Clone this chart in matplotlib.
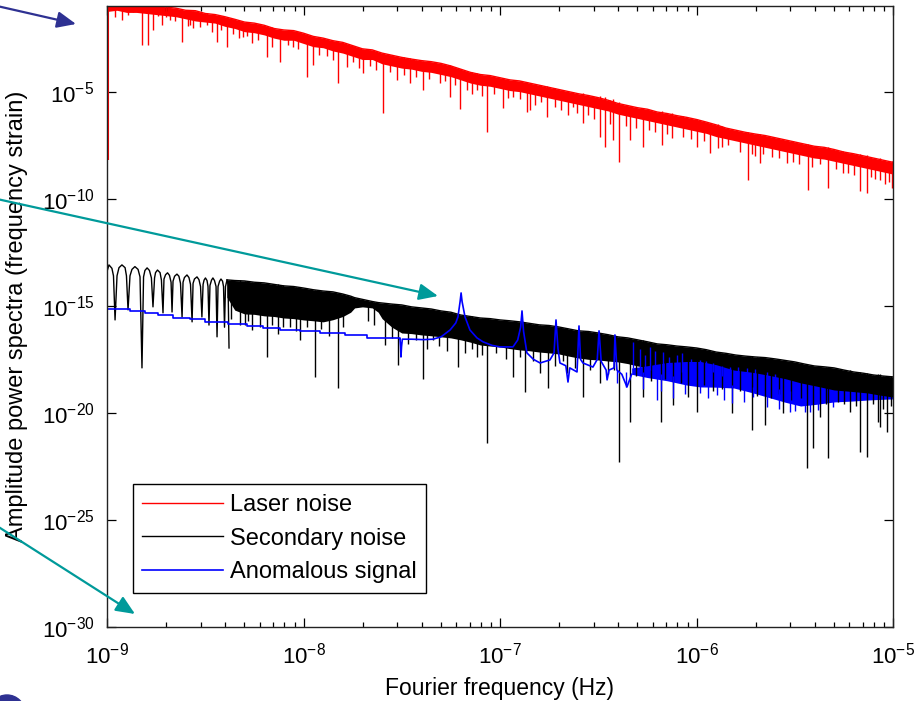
import numpy as np
import matplotlib
matplotlib.use("Agg")
import matplotlib.pyplot as plt
from matplotlib.patches import FancyArrowPatch, Ellipse
from matplotlib.ticker import NullLocator, LogLocator

plt.rcParams['font.family'] = ['Liberation Sans', 'DejaVu Sans']
plt.rcParams['mathtext.fontset'] = 'custom'
plt.rcParams['mathtext.rm'] = 'Liberation Sans'
plt.rcParams['mathtext.it'] = 'Liberation Sans:italic'
plt.rcParams['mathtext.bf'] = 'Liberation Sans:bold'

# ---- data (log10 of frequency in Hz, log10 of amplitude) ----
xtick_exp = [-9, -8, -7, -6, -5]
ytick_exp = [-30, -25, -20, -15, -10, -5]
labels = ['Laser noise', 'Secondary noise', 'Anomalous signal']

# laser noise: band envelope, start edge and spikes
laser_lf = [-8.995, -8.95, -8.9, -8.85, -8.8, -8.75, -8.7, -8.65, -8.6, -8.55, -8.5, -8.45, -8.4,
            -8.35, -8.3, -8.25, -8.2, -8.15, -8.1, -8.05, -8.0, -7.95, -7.9, -7.85, -7.8, -7.75,
            -7.7, -7.65, -7.6, -7.55, -7.5, -7.45, -7.4, -7.35, -7.3, -7.25, -7.2, -7.15, -7.1,
            -7.05, -7.0, -6.95, -6.9, -6.85, -6.8, -6.75, -6.7, -6.65, -6.6, -6.55, -6.5, -6.45,
            -6.4, -6.35, -6.3, -6.25, -6.2, -6.15, -6.1, -6.05, -6.0, -5.95, -5.9, -5.85, -5.8,
            -5.75, -5.7, -5.65, -5.6, -5.55, -5.5, -5.45, -5.4, -5.35, -5.3, -5.25, -5.2, -5.15,
            -5.1, -5.05, -5.0]
laser_top = [-0.9, -0.85, -0.9, -0.88, -0.95, -0.92, -1.05, -1.1, -1.2, -1.22, -1.35, -1.4, -1.5,
             -1.62, -1.75, -1.8, -1.9, -2.05, -2.12, -2.15, -2.27, -2.42, -2.5, -2.62, -2.7, -2.85,
             -3.0, -3.05, -3.2, -3.3, -3.4, -3.48, -3.55, -3.6, -3.68, -3.8, -3.95, -4.1, -4.2,
             -4.25, -4.35, -4.45, -4.5, -4.6, -4.7, -4.8, -4.9, -5.0, -5.1, -5.18, -5.28, -5.4,
             -5.55, -5.65, -5.75, -5.82, -5.95, -6.02, -6.12, -6.2, -6.3, -6.42, -6.55, -6.7, -6.8,
             -6.9, -6.98, -7.05, -7.15, -7.25, -7.35, -7.45, -7.55, -7.6, -7.7, -7.82, -7.9, -8.0,
             -8.1, -8.2, -8.3]
laser_bot = [-1.25, -1.2, -1.3, -1.3, -1.35, -1.4, -1.45, -1.5, -1.6, -1.7,
             -1.75, -1.8, -1.95, -2.05, -2.2, -2.25, -2.35, -2.5, -2.6, -2.6,
             -2.75, -2.9, -2.95, -3.1, -3.2, -3.35, -3.5, -3.5, -3.7, -3.8,
             -3.9, -3.95, -4.05, -4.1, -4.2, -4.3, -4.45, -4.6, -4.7, -4.75,
             -4.85, -4.95, -5.0, -5.1, -5.2, -5.3, -5.4, -5.5, -5.6, -5.7,
             -5.8, -5.9, -6.05, -6.15, -6.25, -6.35, -6.45, -6.55, -6.65, -6.75,
             -6.85, -6.95, -7.1, -7.2, -7.3, -7.4, -7.5, -7.6, -7.7, -7.8,
             -7.9, -8.0, -8.1, -8.15, -8.25, -8.35, -8.45, -8.55, -8.65, -8.75,
             -8.85]
laser_edge = [-8.996, -8.19, -0.9]
# deep spikes
laser_dip_lf = [-8.959, -8.924, -8.893, -8.822, -8.791, -8.766, -8.720, -8.679, -8.618, -8.578,
                -8.527, -8.440, -8.389, -8.308, -8.262, -8.186, -8.120, -8.053, -7.982, -7.952,
                -7.824, -7.779, -7.697, -7.595, -7.524, -7.458, -7.392, -7.305, -7.254, -7.204,
                -7.117, -7.066, -6.985, -6.934, -6.863, -6.847, -6.761, -6.654, -6.629, -6.578,
                -6.491, -6.466, -6.425, -6.394, -6.338, -6.272, -6.176, -6.125, -5.997, -5.931,
                -5.891, -5.738, -5.677, -5.616, -5.539, -5.433, -5.331, -5.254, -5.168, -5.132,
                -5.066, -5.005]
laser_dip_hi = [-0.9, -0.9, -0.9, -0.95, -0.95, -0.95, -1.0, -1.05, -1.2, -1.3, -1.35, -1.5, -1.6,
                -1.8, -1.9, -2.0, -2.15, -2.3, -2.4, -2.5, -2.7, -2.8, -3.0, -3.2, -3.35, -3.45,
                -3.55, -3.65, -3.75, -3.95, -4.15, -4.25, -4.35, -4.45, -4.55, -4.6, -4.75, -4.95,
                -5.0, -5.05, -5.2, -5.25, -5.35, -5.5, -5.65, -5.75, -5.9, -6.0, -6.3, -6.45, -6.5,
                -6.9, -7.0, -7.1, -7.25, -7.45, -7.6, -7.75, -7.9, -7.95, -8.1, -8.25]
laser_dip_lo = [-1.5, -1.66, -1.4, -2.82, -2.82, -2.12, -1.9, -1.66, -2.68, -1.9, -2.0, -2.68, -2.9,
                -2.45, -2.73, -3.38, -3.6, -2.9, -4.31, -3.75, -4.59, -3.84, -4.12, -5.99, -4.45,
                -4.59, -4.92, -4.59, -5.24, -5.8, -4.92, -6.88, -5.76, -5.24, -5.95, -5.85, -6.18,
                -6.09, -5.71, -6.46, -7.11, -7.58, -7.25, -8.28, -7.25, -7.58, -7.49, -7.16, -7.58,
                -7.86, -7.63, -9.12, -8.33, -8.05, -8.33, -9.59, -9.5, -8.8, -9.64, -9.73, -9.12,
                -9.5]
# shorter spikes inside and just below the band
laser_sp_lf = [-8.87, -8.74, -8.70, -8.655, -8.59, -8.56, -8.49, -8.465, -8.42, -8.36, -8.33,
               -8.285, -8.23, -8.16, -8.08, -8.03, -7.92, -7.88, -7.85, -7.75, -7.72, -7.66,
               -7.63, -7.56, -7.49, -7.43, -7.36, -7.28, -7.23, -7.17, -7.14, -7.09, -7.03,
               -6.96, -6.90, -6.82, -6.79, -6.72, -6.69, -6.61, -6.55, -6.52, -6.44, -6.36,
               -6.31, -6.24, -6.21, -6.15, -6.07, -6.03, -5.96, -5.87, -5.84, -5.78, -5.72,
               -5.70, -5.66, -5.58, -5.51, -5.48, -5.41, -5.37, -5.29, -5.23, -5.20, -5.11,
               -5.09, -5.04, -5.02]
laser_sp_hi = [-0.9, -0.95, -1.0, -1.1, -1.2, -1.25, -1.35, -1.4, -1.45, -1.6, -1.7, -1.75, -1.85,
               -2.0, -2.12, -2.2, -2.45, -2.55, -2.62, -2.85, -2.95, -3.05, -3.1, -3.3, -3.4,
               -3.5, -3.6, -3.7, -3.85, -4.05, -4.1, -4.2, -4.3, -4.4, -4.5, -4.65, -4.7, -4.85,
               -4.9, -5.08, -5.18, -5.25, -5.4, -5.6, -5.72, -5.85, -5.9, -6.0, -6.15, -6.25,
               -6.4, -6.6, -6.7, -6.85, -6.95, -6.98, -7.03, -7.2, -7.32, -7.4, -7.52, -7.58,
               -7.72, -7.85, -7.9, -8.08, -8.12, -8.22, -8.26]
laser_sp_lo = [-1.3, -1.45, -1.5, -1.7, -1.95, -2.05, -1.9, -2.2, -2.1, -2.3, -2.5, -2.4, -2.6,
               -2.9, -2.8, -3.0, -3.3, -3.35, -3.5, -3.6, -3.9, -3.8, -4.0, -4.1, -4.2, -4.3,
               -4.4, -4.5, -4.7, -4.9, -5.1, -5.2, -5.1, -5.3, -5.35, -5.6, -5.5, -5.7, -5.85,
               -6.0, -6.1, -6.3, -6.5, -6.6, -6.7, -6.8, -6.9, -7.0, -7.1, -7.2, -7.3, -7.6,
               -7.5, -7.8, -7.9, -8.0, -7.9, -8.1, -8.3, -8.4, -8.5, -8.4, -8.6, -8.8, -8.9,
               -9.0, -9.1, -9.3, -9.2]

# secondary noise: low-frequency lobes, dense band, deep dips
sec_lf = [-9.000, -8.990, -8.975, -8.967, -8.959, -8.949, -8.939, -8.924, -8.908, -8.901, -8.893,
          -8.883, -8.873, -8.858, -8.842, -8.832, -8.822, -8.814, -8.807, -8.796, -8.784, -8.774,
          -8.766, -8.758, -8.753, -8.743, -8.730, -8.723, -8.715, -8.710, -8.702, -8.692, -8.682,
          -8.674, -8.669, -8.664, -8.656, -8.644, -8.634, -8.626, -8.618, -8.613, -8.606, -8.593,
          -8.583, -8.575, -8.567, -8.562, -8.555, -8.542, -8.532, -8.524, -8.517, -8.511, -8.506,
          -8.499, -8.491, -8.486, -8.481, -8.476, -8.468, -8.461, -8.453, -8.445, -8.440, -8.435,
          -8.427, -8.420, -8.412, -8.407, -8.402, -8.397, -8.389, -8.384, -8.379]
sec_la = [-13.4, -13.09, -13.25, -13.6, -15.66, -13.6, -13.22, -13.09, -13.22, -13.6, -15.19,
          -13.6, -13.3, -13.17, -13.3, -13.65, -17.90, -13.65, -13.35, -13.23, -13.35, -13.7,
          -15.05, -13.7, -13.45, -13.33, -13.45, -13.8, -15.33, -13.75, -13.55, -13.46, -13.58,
          -13.9, -15.29, -13.85, -13.62, -13.52, -13.62, -13.95, -15.52, -13.9, -13.68, -13.56,
          -13.68, -14.0, -15.75, -13.95, -13.75, -13.65, -13.78, -14.1, -15.52, -14.0, -13.8,
          -13.70, -13.82, -14.1, -15.9, -14.05, -13.8, -13.70, -13.82, -14.1, -16.45, -14.1,
          -13.85, -13.75, -13.85, -14.1, -16.0, -14.1, -13.79, -14.0, -16.97]
sec_band_lf = [-8.39, -8.35, -8.3, -8.25, -8.2, -8.15, -8.1, -8.05, -8.0, -7.95, -7.9, -7.85, -7.8,
               -7.76, -7.74, -7.7, -7.65, -7.62, -7.6, -7.55, -7.5, -7.45, -7.4, -7.35, -7.3,
               -7.25, -7.2, -7.15, -7.1, -7.05, -7.0, -6.95, -6.9, -6.85, -6.8, -6.75, -6.7,
               -6.65, -6.6, -6.55, -6.5, -6.45, -6.4, -6.35, -6.3, -6.25, -6.2, -6.15, -6.1,
               -6.05, -6.0, -5.95, -5.9, -5.85, -5.8, -5.75, -5.7, -5.65, -5.6, -5.55, -5.5,
               -5.45, -5.4, -5.35, -5.3, -5.25, -5.2, -5.15, -5.1, -5.05, -5.0]
sec_band_top = [-13.79, -13.82, -13.84, -13.9, -13.93, -14.0, -14.07, -14.1, -14.17, -14.25,
                -14.31, -14.35, -14.45, -14.55, -14.62, -14.7, -14.8, -14.85, -14.87, -14.92,
                -14.96, -15.05, -15.10, -15.15, -15.24, -15.3, -15.43, -15.5, -15.57, -15.6,
                -15.66, -15.7, -15.75, -15.82, -15.89, -15.92, -15.99, -16.08, -16.17, -16.2,
                -16.27, -16.35, -16.45, -16.5, -16.59, -16.68, -16.78, -16.82, -16.88, -16.92,
                -16.97, -17.05, -17.16, -17.22, -17.30, -17.35, -17.39, -17.42, -17.48, -17.55,
                -17.62, -17.72, -17.81, -17.85, -17.90, -18.0, -18.09, -18.15, -18.23, -18.28,
                -18.32]
sec_band_bot = [-14.6, -15.2, -15.38, -15.4, -15.47, -15.5, -15.57, -15.6, -15.66, -15.7,
                -15.75, -15.65, -15.5, -15.3, -15.1, -15.05, -15.1, -15.3, -15.6, -16.0,
                -16.27, -16.3, -16.36, -16.4, -16.45, -16.5, -16.59, -16.7, -16.83, -16.88,
                -16.92, -17.0, -17.06, -17.1, -17.16, -17.2, -17.25, -17.35, -17.44, -17.5,
                -17.53, -17.58, -17.62, -17.7, -17.81, -17.9, -18.0, -18.05, -18.09, -18.12,
                -18.18, -18.28, -18.37, -18.45, -18.56, -18.65, -18.74, -18.8, -18.84, -18.9,
                -18.93, -19.0, -19.07, -19.1, -19.16, -19.18, -19.21, -19.23, -19.26, -19.28,
                -19.30]
sec_dip_lf = [-8.323, -8.262, -8.186, -8.104, -8.018, -7.941, -7.824, -7.585, -7.519, -7.392,
              -7.341, -7.214, -7.117, -7.066, -6.934, -6.873, -6.796, -6.756, -6.659, -6.578,
              -6.491, -6.394, -6.338, -6.272, -6.181, -6.120, -6.044, -5.997, -5.916, -5.819,
              -5.718, -5.651, -5.560, -5.438, -5.407, -5.372, -5.331, -5.219, -5.168, -5.132,
              -5.077, -5.066, -5.031,
              -8.37, -8.30, -8.28, -8.22, -8.16, -8.13, -8.07, -8.04, -7.98, -7.91, -7.87,
              -7.80, -7.67, -7.64, -7.55, -7.47, -7.43, -7.37, -7.31, -7.27, -7.18, -7.14,
              -7.09, -7.02, -6.97, -6.90, -6.83, -6.72, -6.68, -6.62, -6.54, -6.45, -6.42,
              -6.31, -6.23, -6.16, -6.08, -5.96, -5.87, -5.78, -5.69, -5.62, -5.58, -5.52,
              -5.47, -5.34, -5.28, -5.25, -5.19, -5.10, -5.05, -5.01]
sec_dip_hi = [-13.8, -13.9, -13.95, -14.05, -14.15, -14.25, -14.4, -14.9, -14.95, -15.1, -15.2,
              -15.4, -15.55, -15.6, -15.75, -15.8, -15.9, -15.95, -16.05, -16.2, -16.3, -16.45,
              -16.5, -16.6, -16.8, -16.85, -16.95, -16.97, -17.1, -17.3, -17.35, -17.45, -17.55,
              -17.75, -17.8, -17.85, -17.9, -18.0, -18.1, -18.15, -18.2, -18.2, -18.3,
              -13.8, -13.85, -13.87, -13.9, -13.98, -14.0, -14.08, -14.1, -14.2, -14.3, -14.33,
              -14.45, -14.78, -14.82, -14.92, -15.0, -15.05, -15.12, -15.22, -15.28, -15.45,
              -15.5, -15.57, -15.63, -15.68, -15.75, -15.85, -15.95, -16.02, -16.12, -16.22,
              -16.35, -16.4, -16.57, -16.72, -16.8, -16.9, -17.0, -17.2, -17.32, -17.4, -17.45,
              -17.5, -17.6, -17.68, -17.86, -17.95, -18.0, -18.1, -18.23, -18.28, -18.3]
sec_dip_lo = [-15.89, -16.13, -17.39, -15.99, -16.59, -18.32, -18.84, -16.83, -17.76, -18.42,
              -16.6, -17.86, -17.39, -21.41, -18.32, -19.02, -18.14, -18.84, -18.14, -19.26,
              -18.60, -22.29, -20.43, -19.26, -20.43, -19.63, -19.26, -19.96, -18.98, -20.00,
              -20.80, -20.57, -20.00, -22.57, -21.64, -20.19, -22.11, -19.96, -21.83, -22.06,
              -20.43, -20.66, -20.89,
              -15.6, -15.9, -15.7, -16.0, -15.9, -16.3, -16.0, -16.2, -16.0, -16.1, -16.4,
              -16.0, -15.7, -15.9, -16.5, -16.8, -16.6, -17.0, -16.9, -17.1, -17.2, -17.0,
              -17.3, -17.2, -17.5, -17.4, -17.6, -17.8, -17.6, -17.9, -18.0, -18.2, -18.0,
              -18.3, -18.5, -18.4, -18.6, -18.7, -18.9, -19.0, -19.2, -19.3, -19.1, -19.4,
              -19.3, -19.6, -19.5, -19.6, -19.7, -19.6, -19.8, -19.7]

# anomalous signal: staircase, resonance peaks, dense band
anom_step_lf = [-9.0, -8.883, -8.807, -8.740, -8.664, -8.578, -8.501, -8.384, -8.288, -8.206,
                -8.120, -8.018, -7.916, -7.789, -7.677, -7.509]
anom_step_la = [-15.16, -15.24, -15.32, -15.43, -15.55, -15.63, -15.74, -15.85, -15.94, -16.02,
                -16.13, -16.20, -16.27, -16.38, -16.50, -16.54]
anom_lf = [-7.509, -7.506, -7.504, -7.501, -7.497, -7.45, -7.39, -7.341, -7.30, -7.254, -7.225,
           -7.214, -7.203, -7.198, -7.193, -7.178, -7.153, -7.117, -7.087, -7.04, -7.0, -6.934,
           -6.91, -6.895, -6.888, -6.880, -6.863, -6.83, -6.796, -6.746, -6.725, -6.715, -6.705,
           -6.695, -6.665, -6.654, -6.645, -6.608, -6.598, -6.590, -6.578, -6.527, -6.505, -6.496,
           -6.485, -6.46, -6.455, -6.445, -6.42, -6.415, -6.405, -6.38, -6.354, -6.33]
anom_la = [-16.54, -16.9, -17.39, -16.9, -16.56, -16.56, -16.58, -16.56, -16.45, -16.13, -15.8,
           -15.52, -14.8, -14.40, -14.8, -15.52, -16.13, -16.5, -16.68, -16.85, -16.92, -16.92,
           -16.6, -16.0, -15.24, -16.2, -17.20, -17.5, -17.67, -17.53, -17.2, -15.66, -17.0,
           -17.67, -17.8, -18.56, -17.9, -18.09, -15.94, -17.5, -17.67, -17.86, -17.5, -16.17,
           -17.6, -18.0, -18.46, -18.0, -17.9, -16.36, -18.0, -18.2, -18.79, -18.2]
anom_band_lf = [-6.33, -6.25, -6.15, -6.05, -5.98, -5.9, -5.81, -5.72, -5.64, -5.55, -5.47, -5.39,
                -5.3, -5.21, -5.13, -5.06, -5.0]
anom_band_top = [-17.9, -17.8, -17.65, -17.6, -17.6, -17.75, -18.0, -18.1, -18.23, -18.4,
                 -18.6, -18.75, -18.93, -19.0, -19.07, -19.18, -19.26]
anom_band_bot = [-18.2, -18.35, -18.5, -18.7, -18.79, -18.8, -18.84, -19.05, -19.26, -19.5,
                 -19.68, -19.6, -19.49, -19.45, -19.40, -19.37, -19.35]
anom_sp_lf = [-6.405, -6.359, -6.323, -6.237, -6.201, -6.170, -6.120, -6.074, -5.982, -5.916,
              -5.895, -5.829, -5.819, -5.743, -5.713, -5.641, -5.524, -5.448, -5.382, -5.305,
              -6.29, -6.26, -6.21, -6.14, -6.10, -6.03, -5.95, -5.87, -5.79, -5.70, -5.60,
              -6.27, -6.18, -6.06, -5.94, -5.86, -5.76, -5.58, -5.50, -5.42]
anom_sp_lo = [-18.60, -18.79, -17.9, -18.0, -19.40, -18.0, -19.30, -18.1, -19.07, -18.1, -19.16,
              -18.2, -19.54, -18.3, -19.26, -19.72, -19.96, -19.96, -19.86, -19.72,
              -18.0, -18.0, -18.1, -18.1, -18.2, -18.2, -18.2, -18.3, -18.3, -18.4, -18.5,
              -18.9, -19.0, -19.1, -19.3, -19.4, -19.5, -19.8, -19.9, -19.95]
anom_sp_hi = [-18.0, -18.1, -16.68, -16.92, -18.2, -17.16, -18.3, -17.20, -17.53, -17.67, -18.6,
              -17.86, -18.7, -17.90, -18.8, -18.09, -19.0, -19.1, -19.1, -19.2,
              -17.0, -17.3, -17.1, -17.4, -17.3, -17.5, -17.6, -17.8, -17.85, -17.95, -18.2,
              -18.1, -18.2, -18.3, -18.5, -18.6, -18.7, -18.9, -19.0, -19.1]


def p10(v):
    return 10.0 ** np.asarray(v, dtype=float)


fig = plt.figure(figsize=(9.2, 7.01), dpi=100)
ax = fig.add_axes([107 / 920, 74 / 701, 786 / 920, 621 / 701])
ax.set_xscale('log')
ax.set_yscale('log')

red, blk, blu = '#ff0000', '#000000', '#0000ff'
lw = 1.0

# laser noise
ax.fill_between(p10(laser_lf), p10(laser_bot), p10(laser_top), color=red, lw=0)
l_red, = ax.plot(p10(laser_lf), p10(laser_top), color=red, lw=lw)
ax.vlines(p10(laser_edge[0]), p10(laser_edge[1]), p10(laser_edge[2]), color=red, lw=1.5)
ax.vlines(p10(laser_dip_lf), p10(laser_dip_lo), p10(laser_dip_hi), color=red, lw=lw)
ax.vlines(p10(laser_sp_lf), p10(laser_sp_lo), p10(laser_sp_hi), color=red, lw=lw)

# secondary noise
l_blk, = ax.plot(p10(sec_lf), p10(sec_la), color=blk, lw=lw)
ax.fill_between(p10(sec_band_lf), p10(sec_band_bot), p10(sec_band_top), color=blk, lw=0)
ax.plot(p10(sec_band_lf), p10(sec_band_top), color=blk, lw=lw)
ax.vlines(p10(sec_dip_lf), p10(sec_dip_lo), p10(sec_dip_hi), color=blk, lw=lw)

# anomalous signal
l_blu, = ax.plot(p10(anom_step_lf), p10(anom_step_la), color=blu, lw=1.2, drawstyle='steps-post')
ax.plot(p10(anom_lf), p10(anom_la), color=blu, lw=1.2)
ax.fill_between(p10(anom_band_lf), p10(anom_band_bot), p10(anom_band_top), color=blu, lw=0)
ax.vlines(p10(anom_sp_lf), p10(anom_sp_lo), p10(anom_sp_hi), color=blu, lw=lw)

ax.set_xticks(p10(xtick_exp), [r'$10^{%d}$' % e for e in xtick_exp])
ax.xaxis.set_minor_locator(LogLocator(base=10, subs=np.arange(2, 10)))
ax.set_yticks(p10(ytick_exp), [r'$10^{%d}$' % e for e in ytick_exp])
ax.yaxis.set_minor_locator(NullLocator())
ax.set_xlim(1e-9, 1e-5)
ax.set_ylim(1e-30, 1e-1)

ax.tick_params(which='both', direction='in', top=True, right=True, labelsize=16, width=0.9)
ax.tick_params(which='major', length=6.5)
ax.tick_params(which='minor', length=3.5)
ax.tick_params(axis='x', pad=11)
ax.tick_params(axis='y', pad=9)
for s in ax.spines.values():
    s.set_linewidth(1.0)
    s.set_color('#222222')

ax.set_xlabel('Fourier frequency (Hz)', fontsize=16.5, labelpad=6)
ax.set_ylabel('Amplitude power spectra (frequency strain)', fontsize=17)
ax.yaxis.set_label_coords(-0.1, 0.5)

leg = ax.legend([l_red, l_blk, l_blu], labels, loc='lower left', bbox_to_anchor=(0.033, 0.055),
                borderaxespad=0, fancybox=False, edgecolor='black', framealpha=1, fontsize=17,
                handlelength=3.4, handletextpad=0.3, labelspacing=0.5, borderpad=0.4)
leg.get_frame().set_linewidth(1.0)


# decorations outside the axes (slide arrows and bullet)
def fpos(x, y):
    return (x / 920, 1 - y / 701)


arrows = [((-3, 6), (76, 24), '#2e3192'),
          ((-3, 199), (438, 296), '#009a9a'),
          ((-3, 526), (135, 614), '#009a9a')]
for a, b, c in arrows:
    fig.add_artist(FancyArrowPatch(fpos(*a), fpos(*b), transform=fig.transFigure,
                                   arrowstyle='-|>,head_length=1.15,head_width=0.5',
                                   mutation_scale=10, lw=1.6, color=c,
                                   shrinkA=0, shrinkB=0, clip_on=False))
fig.add_artist(Ellipse(fpos(7, 713), 36 / 920, 36 / 701, transform=fig.transFigure,
                       color='#2e3192', clip_on=False))

fig.savefig('out.png', dpi=100)
